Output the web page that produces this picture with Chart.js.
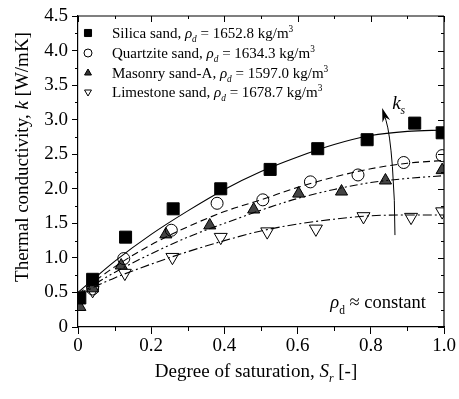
<!DOCTYPE html>
<html>
<head>
<meta charset="utf-8">
<script src="https://cdn.jsdelivr.net/npm/chart.js@4/dist/chart.umd.min.js"></script>
<style>
html,body{margin:0;padding:0;background:#fff;}
#wrap{width:459px;height:399px;position:relative;}
</style>
</head>
<body>
<div id="wrap"><canvas id="c" width="459" height="399"></canvas></div>
<script>
// ---- Data ----
const silicaSr = [0.005, 0.04, 0.13, 0.26, 0.39, 0.525, 0.655, 0.79, 0.92, 0.995];
const silicaK  = [0.42, 0.69, 1.30, 1.71, 2.00, 2.28, 2.58, 2.71, 2.95, 2.81];
const quartzSr = [0.04, 0.125, 0.255, 0.38, 0.505, 0.635, 0.765, 0.89, 0.995];
const quartzK  = [0.55, 0.99, 1.40, 1.79, 1.84, 2.10, 2.20, 2.38, 2.48];
const masonrySr = [0.005, 0.04, 0.118, 0.24, 0.36, 0.48, 0.603, 0.72, 0.84, 0.995];
const masonryK  = [0.29, 0.56, 0.89, 1.34, 1.47, 1.70, 1.93, 1.96, 2.12, 2.27];
const limeSr = [0.04, 0.128, 0.258, 0.39, 0.517, 0.65, 0.78, 0.91, 0.995];
const limeK  = [0.53, 0.78, 1.01, 1.30, 1.38, 1.42, 1.60, 1.59, 1.67];

// fitted curves (read at these saturations)
const fitSr = [0, 0.1, 0.2, 0.3, 0.4, 0.5, 0.6, 0.7, 0.8, 0.9, 1.0];
const fitSilica  = [0.50, 0.95, 1.34, 1.68, 1.99, 2.25, 2.46, 2.64, 2.77, 2.83, 2.85];
const fitQuartz  = [0.48, 0.87, 1.19, 1.45, 1.67, 1.84, 2.02, 2.17, 2.29, 2.37, 2.41];
const fitMasonry = [0.47, 0.79, 1.06, 1.30, 1.50, 1.69, 1.86, 1.99, 2.09, 2.15, 2.19];
const fitLime    = [0.47, 0.71, 0.91, 1.09, 1.25, 1.39, 1.49, 1.56, 1.61, 1.62, 1.62];

const legendNames = ['Silica sand, ', 'Quartzite sand, ', 'Masonry sand-A, ', 'Limestone sand, '];
const legendDensity = ['1652.8', '1634.3', '1597.0', '1678.7'];

const xTickValues = [0, 0.2, 0.4, 0.6, 0.8, 1.0];
const yTickValues = [0, 0.5, 1.0, 1.5, 2.0, 2.5, 3.0, 3.5, 4.0, 4.5];

// k_s arrow path (Sr, k)
const ksArrowSr = [0.866, 0.866, 0.852, 0.831];
const ksArrowK  = [1.33, 1.84, 2.81, 3.17];
const rhoNoteSr = 0.82;
const rhoNoteK  = 0.27;

const SERIF = '"Liberation Serif", "Times New Roman", serif';

function pts(xs, ys){ return xs.map((x,i)=>({x:x, y:ys[i]})); }

const markerStyles = [
  {pointStyle:'rect', radius:8.5, bg:'#000', border:'#000', rot:0},
  {pointStyle:'circle', radius:6, bg:'rgba(0,0,0,0)', border:'#000', rot:0},
  {pointStyle:'triangle', radius:7, bg:'#444', border:'#000', rot:0},
  {pointStyle:'triangle', radius:7.5, bg:'rgba(0,0,0,0)', border:'#000', rot:180}
];

function fitDs(ys, dash){
  return {type:'scatter', data: pts(fitSr, ys), showLine:true, pointRadius:0, borderColor:'#000',
          borderWidth:1.1, borderDash:dash, cubicInterpolationMode:'monotone', fill:false};
}
function markDs(xs, ys, m){
  return {type:'scatter', data: pts(xs, ys), showLine:false, pointStyle:m.pointStyle, pointRadius:m.radius,
          pointBackgroundColor:m.bg, pointBorderColor:m.border, pointBorderWidth:1, pointRotation:m.rot};
}

// draw text segments: {t, it, sub, sup}
function richWidth(ctx, segs, size){
  let w = 0;
  for (const s of segs){
    const fs = (s.sub||s.sup) ? size*0.62 : size;
    ctx.font = (s.it?'italic ':'') + fs + 'px ' + SERIF;
    w += ctx.measureText(s.t).width;
  }
  return w;
}
function drawRich(ctx, segs, x, y, size, align){
  ctx.save();
  ctx.textBaseline = 'alphabetic';
  ctx.textAlign = 'left';
  let cx = x;
  if (align === 'center') cx = x - richWidth(ctx, segs, size)/2;
  for (const s of segs){
    const fs = (s.sub||s.sup) ? size*0.62 : size;
    ctx.font = (s.it?'italic ':'') + fs + 'px ' + SERIF;
    let dy = 0;
    if (s.sub) dy = size*0.28;
    if (s.sup) dy = -size*0.42;
    ctx.fillText(s.t, cx, y + dy);
    cx += ctx.measureText(s.t).width;
  }
  ctx.restore();
}

const framePlugin = {
  id:'frame',
  afterDraw(chart){
    const ctx = chart.ctx, a = chart.chartArea;
    const xs = chart.scales.x, ys = chart.scales.y;
    ctx.save();
    ctx.strokeStyle = '#000';
    ctx.lineWidth = 1.2;
    ctx.beginPath();
    ctx.moveTo(a.left, a.top); ctx.lineTo(a.right, a.top);
    ctx.moveTo(a.right, a.top); ctx.lineTo(a.right, a.bottom);
    ctx.stroke();
    ctx.lineWidth = 1;
    ctx.beginPath();
    for (let i = 0; i <= 10; i++){
      const v = i/10, px = Math.round(xs.getPixelForValue(v)) + 0.5;
      const major = (i % 2 === 0);
      if (!major){ ctx.moveTo(px, a.bottom); ctx.lineTo(px, a.bottom + 4); }
      ctx.moveTo(px, a.top); ctx.lineTo(px, a.top + (major ? 6 : 3));
    }
    for (let i = 0; i <= 18; i++){
      const v = i*0.25, py = Math.round(ys.getPixelForValue(v)) + 0.5;
      const major = (i % 2 === 0);
      if (!major){ ctx.moveTo(a.left, py); ctx.lineTo(a.left - 3, py); }
      ctx.moveTo(a.right, py); ctx.lineTo(a.right - (major ? 6 : 3), py);
    }
    ctx.stroke();

    // k_s arrow
    const P = ksArrowSr.map((s,i)=>[xs.getPixelForValue(s), ys.getPixelForValue(ksArrowK[i])]);
    ctx.lineWidth = 1;
    ctx.beginPath();
    ctx.moveTo(P[0][0], P[0][1]);
    for (let i = 1; i < P.length - 1; i++){
      const mx = (P[i][0] + P[i+1][0])/2, my = (P[i][1] + P[i+1][1])/2;
      ctx.quadraticCurveTo(P[i][0], P[i][1], mx, my);
    }
    const tip = P[P.length-1], prev = P[P.length-2];
    const ang = Math.atan2(tip[1]-prev[1], tip[0]-prev[0]);
    const L = 14, W = 4;
    const bx = tip[0] - Math.cos(ang)*L*0.7, by = tip[1] - Math.sin(ang)*L*0.7;
    ctx.lineTo(bx, by);
    ctx.stroke();
    ctx.fillStyle = '#000';
    ctx.beginPath();
    ctx.moveTo(tip[0], tip[1]);
    ctx.lineTo(tip[0] - Math.cos(ang)*L - Math.sin(ang)*W, tip[1] - Math.sin(ang)*L + Math.cos(ang)*W);
    ctx.lineTo(tip[0] - Math.cos(ang)*L*0.7, tip[1] - Math.sin(ang)*L*0.7);
    ctx.lineTo(tip[0] - Math.cos(ang)*L + Math.sin(ang)*W, tip[1] - Math.sin(ang)*L - Math.cos(ang)*W);
    ctx.closePath();
    ctx.fill();
    ctx.fillStyle = '#000';
    drawRich(ctx, [{t:'k', it:true}, {t:'s', it:true, sub:true}], tip[0] + 10, tip[1] + 1, 19, 'left');

    // rho_d ~ constant
    const nx = xs.getPixelForValue(rhoNoteSr), ny = ys.getPixelForValue(rhoNoteK);
    drawRich(ctx, [{t:'\u03C1', it:true}, {t:'d', sub:true}, {t:' \u2248 constant'}], nx, ny, 18.5, 'center');

    // legend
    const rowY = [33, 53, 73, 92];
    const mx = a.left + 10, tx = a.left + 34;
    for (let i = 0; i < 4; i++){
      const m = markerStyles[i];
      const y = rowY[i];
      ctx.save();
      ctx.lineWidth = 1;
      ctx.strokeStyle = '#000';
      ctx.fillStyle = m.bg === 'rgba(0,0,0,0)' ? '#fff' : (i === 2 ? '#333' : '#000');
      Chart.helpers.drawPoint(ctx, {pointStyle:m.pointStyle, rotation:m.rot, radius: i===0?5:4, borderWidth:1}, mx, y);
      ctx.restore();
      ctx.fillStyle = '#000';
      drawRich(ctx, [
        {t:legendNames[i]}, {t:'\u03C1', it:true}, {t:'d', it:true, sub:true},
        {t:' = ' + legendDensity[i] + ' kg/m'}, {t:'3', sup:true}
      ], tx, y + 5, 15, 'left');
    }

    // axis titles
    ctx.fillStyle = '#000';
    drawRich(ctx, [{t:'Degree of saturation, '}, {t:'S', it:true}, {t:'r', it:true, sub:true}, {t:' [-]'}],
             (a.left + a.right)/2 - 5, 377, 19, 'center');
    ctx.save();
    ctx.translate(28, 157);
    ctx.rotate(-Math.PI/2);
    drawRich(ctx, [{t:'Thermal conductivity, '}, {t:'k', it:true}, {t:' [W/mK]'}], 0, 0, 19, 'center');
    ctx.restore();
    ctx.restore();
  }
};

const datasets = [
  fitDs(fitSilica, []),
  fitDs(fitQuartz, [7, 4]),
  fitDs(fitMasonry, [8, 3, 2, 3, 2, 3]),
  fitDs(fitLime, [9, 3, 2, 3]),
  markDs(silicaSr, silicaK, markerStyles[0]),
  markDs(quartzSr, quartzK, markerStyles[1]),
  markDs(masonrySr, masonryK, markerStyles[2]),
  markDs(limeSr, limeK, markerStyles[3])
];

new Chart(document.getElementById('c'), {
  type:'scatter',
  data:{datasets},
  options:{
    responsive:false,
    animation:false,
    devicePixelRatio:1,
    layout:{padding:{top:16, right:15, left:0, bottom:0}},
    plugins:{legend:{display:false}, tooltip:{enabled:false}, title:{display:false}},
    scales:{
      x:{
        type:'linear', min:0, max:1,
        afterBuildTicks(s){ s.ticks = xTickValues.map(v=>({value:v})); },
        afterFit(s){ s.height = 72; },
        ticks:{color:'#000', font:{family:SERIF, size:19}, padding:1, maxRotation:0,
               callback:(v)=> v === 0 ? '0' : Number(v).toFixed(1)},
        grid:{display:true, drawOnChartArea:false, drawTicks:true, tickLength:7, color:'#000', lineWidth:1},
        border:{display:true, color:'#000', width:1.2}
      },
      y:{
        type:'linear', min:0, max:4.5,
        afterBuildTicks(s){ s.ticks = yTickValues.map(v=>({value:v})); },
        afterFit(s){ s.width = 78; },
        ticks:{color:'#000', font:{family:SERIF, size:19}, padding:4,
               callback:(v)=> v === 0 ? '0' : Number(v).toFixed(1)},
        grid:{display:true, drawOnChartArea:false, drawTicks:true, tickLength:6, color:'#000', lineWidth:1},
        border:{display:true, color:'#000', width:1.2}
      }
    }
  },
  plugins:[framePlugin]
});
</script>
</body>
</html>
